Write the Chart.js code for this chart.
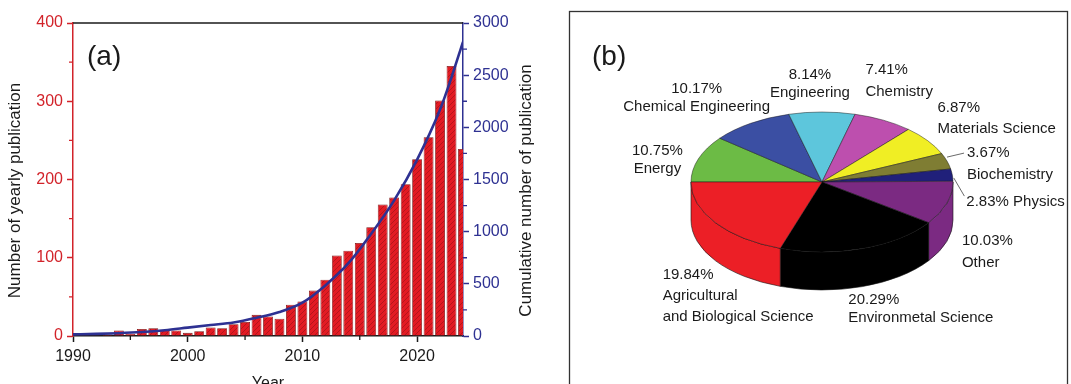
<!DOCTYPE html>
<html>
<head>
<meta charset="utf-8">
<script src="https://cdn.jsdelivr.net/npm/chart.js@4.4.1/dist/chart.umd.min.js"></script>
<style>
  html, body { margin: 0; padding: 0; background: #fff; width: 1071px; height: 384px; overflow: hidden; }
  #growth { position: absolute; left: 0; top: 0; }
  #subjects { position: absolute; left: 560px; top: 0; }
</style>
</head>
<body>
<canvas id="growth" width="560" height="400"></canvas>
<canvas id="subjects" width="511" height="384"></canvas>
<script>
// ---------- (a) publications per year and running total ----------
const years = [1990, 1991, 1992, 1993, 1994, 1995, 1996, 1997, 1998, 1999,
               2000, 2001, 2002, 2003, 2004, 2005, 2006, 2007, 2008, 2009,
               2010, 2011, 2012, 2013, 2014, 2015, 2016, 2017, 2018, 2019,
               2020, 2021, 2022, 2023, 2024];
const yearlyCounts = [1, 1, 1, 2, 7, 3, 9, 10, 8, 7,
                      4, 6, 11, 10, 15, 18, 27, 25, 22, 40,
                      44, 58, 72, 103, 109, 119, 139, 168, 177, 194,
                      226, 254, 301, 345, 239];
const curveYears = [1990, 1992, 1994, 1996, 1998, 2000, 2002, 2004, 2006, 2008,
                    2010, 2012, 2014, 2016, 2018, 2020, 2022, 2023, 2024];
const curveTotals = [16, 20, 27, 38, 55, 80, 105, 130, 175, 230,
                     320, 485, 695, 980, 1300, 1690, 2170, 2480, 2820];

const yearTicks = [1990, 2000, 2010, 2020];
const yearMinorTicks = [1995, 2005, 2015];
const countTicks = [0, 100, 200, 300, 400];
const countMinorTicks = [50, 150, 250, 350];
const totalTicks = [0, 500, 1000, 1500, 2000, 2500, 3000];
const totalMinorTicks = [250, 750, 1250, 1750, 2250, 2750];

// ---------- (b) share of publications by subject area ----------
const subjects = ['Energy', 'Chemical Engineering', 'Engineering', 'Chemistry', 'Materials Science',
                  'Biochemistry', 'Physics', 'Other', 'Environmetal Science', 'Agricultural and Biological Science'];
const shares = [10.75, 10.17, 8.14, 7.41, 6.87, 3.67, 2.83, 10.03, 20.29, 19.84];

const FONT = "'Liberation Sans', Arial, Helvetica, sans-serif";
const RED_AXIS = '#d2232a';
const BLUE_AXIS = '#2e3192';
const INK = '#1a1a1a';

const sliceColors = ['#6cbb45', '#3b4fa3', '#5dc6dc', '#bd4fae', '#f0ee24',
                     '#7f7d33', '#20207a', '#7b2a82', '#000000', '#ec1f26'];

// placement of each slice label relative to the rim point at the slice's mid angle
const labelLayout = [
  { dx: -41, dy: -8,  align: 'center', gap: 18 },
  { dx: -54, dy: -34, align: 'center', gap: 18 },
  { dx: -12, dy: -37, align: 'center', gap: 18 },
  { dx: -18, dy: -50, align: 'left',   gap: 22 },
  { dx: 10,  dy: -33, align: 'left',   gap: 21 },
  { dx: 20,  dy: -8,  align: 'left',   gap: 22, leader: [0, -4, 17, -8] },
  { dx: 14,  dy: 27,  align: 'left',   gap: 0, inline: true, leader: [1.5, 3, 12, 21] },
  { dx: 15,  dy: 38,  align: 'left',   gap: 22 },
  { dx: -14, dy: 51,  align: 'left',   gap: 18 },
  { dx: -53, dy: 52,  align: 'left',   gap: 21, breakBefore: 'and' }
];

// ---------- hatched red fill for the bars ----------
function makeHatch(ctx) {
  const tile = document.createElement('canvas');
  tile.width = tile.height = 5;
  const g = tile.getContext('2d');
  g.fillStyle = '#e31b23';
  g.fillRect(0, 0, 5, 5);
  g.strokeStyle = '#a8141b';
  g.lineWidth = 0.8;
  g.beginPath();
  g.moveTo(-1, 6);
  g.lineTo(6, -1);
  g.stroke();
  return ctx.createPattern(tile, 'repeat');
}

const growthCanvas = document.getElementById('growth');
const hatch = makeHatch(growthCanvas.getContext('2d'));

function verticalText(ctx, text, x, y) {
  ctx.save();
  ctx.translate(x, y);
  ctx.rotate(-Math.PI / 2);
  ctx.textAlign = 'center';
  ctx.textBaseline = 'middle';
  ctx.fillText(text, 0, 0);
  ctx.restore();
}

// frame line along the top, minor ticks, axis titles and panel tag
const growthDecor = {
  id: 'growthDecor',
  afterDraw(chart) {
    const { ctx, chartArea: a, scales } = chart;
    ctx.save();
    ctx.lineWidth = 1.5;
    ctx.strokeStyle = INK;
    ctx.beginPath();
    ctx.moveTo(a.left, a.top);
    ctx.lineTo(a.right, a.top);
    ctx.stroke();

    ctx.lineWidth = 1.3;
    ctx.beginPath();
    yearMinorTicks.forEach(v => {
      const px = scales.x.getPixelForValue(v);
      ctx.moveTo(px, a.bottom);
      ctx.lineTo(px, a.bottom + 4);
    });
    ctx.stroke();

    ctx.strokeStyle = RED_AXIS;
    ctx.beginPath();
    countMinorTicks.forEach(v => {
      const py = scales.y.getPixelForValue(v);
      ctx.moveTo(a.left, py);
      ctx.lineTo(a.left - 4, py);
    });
    ctx.stroke();

    ctx.strokeStyle = BLUE_AXIS;
    ctx.beginPath();
    totalMinorTicks.forEach(v => {
      const py = scales.y2.getPixelForValue(v);
      ctx.moveTo(a.right, py);
      ctx.lineTo(a.right + 4, py);
    });
    ctx.stroke();

    ctx.fillStyle = INK;
    ctx.font = '17px ' + FONT;
    const midY = (a.top + a.bottom) / 2 + 11;
    verticalText(ctx, 'Number of yearly publication', 15, midY);
    verticalText(ctx, 'Cumulative number of publication', a.right + 63, midY);

    ctx.font = '28px ' + FONT;
    ctx.textBaseline = 'middle';
    ctx.textAlign = 'left';
    ctx.fillText('(a)', 87, 57);
    ctx.restore();
  }
};

new Chart(growthCanvas, {
  type: 'bar',
  data: {
    datasets: [
      {
        type: 'line',
        label: 'Cumulative number of publication',
        data: curveYears.map((x, i) => ({ x, y: curveTotals[i] })),
        yAxisID: 'y2',
        borderColor: BLUE_AXIS,
        borderWidth: 2.6,
        pointRadius: 0,
        cubicInterpolationMode: 'monotone',
        order: 0
      },
      {
        type: 'bar',
        label: 'Number of yearly publication',
        data: years.map((x, i) => ({ x, y: yearlyCounts[i] })),
        yAxisID: 'y',
        backgroundColor: hatch,
        borderColor: '#7a1414',
        borderWidth: 0.8,
        barPercentage: 0.86,
        categoryPercentage: 1,
        clip: 0,
        order: 1
      }
    ]
  },
  options: {
    responsive: false,
    animation: false,
    events: [],
    layout: { padding: { top: 23, left: 0, right: 0, bottom: 0 } },
    plugins: { legend: { display: false }, tooltip: { enabled: false } },
    scales: {
      x: {
        type: 'linear',
        position: 'bottom',
        min: 1990,
        max: 2024,
        offset: false,
        afterBuildTicks: s => { s.ticks = yearTicks.map(value => ({ value })); },
        afterFit: s => { s.height = 64; },
        ticks: { color: INK, font: { family: FONT, size: 16 }, padding: 5, callback: v => String(v), maxRotation: 0 },
        grid: { drawOnChartArea: false, offset: false, tickLength: 6, tickWidth: 1.5, tickColor: INK },
        border: { color: INK, width: 1.5 },
        title: { display: true, text: 'Year', color: INK, font: { family: FONT, size: 16 }, padding: { top: 0, bottom: 7 } }
      },
      y: {
        position: 'left',
        min: 0,
        max: 400,
        afterBuildTicks: s => { s.ticks = countTicks.map(value => ({ value })); },
        afterFit: s => { s.width = 73; },
        ticks: { color: RED_AXIS, font: { family: FONT, size: 16 }, padding: 4, callback: v => String(v) },
        grid: { drawOnChartArea: false, tickLength: 6, tickWidth: 1.5, tickColor: RED_AXIS },
        border: { color: RED_AXIS, width: 1.5 }
      },
      y2: {
        position: 'right',
        min: 0,
        max: 3000,
        afterBuildTicks: s => { s.ticks = totalTicks.map(value => ({ value })); },
        afterFit: s => { s.width = 97; },
        ticks: { color: BLUE_AXIS, font: { family: FONT, size: 16 }, padding: 4, callback: v => String(v) },
        grid: { drawOnChartArea: false, tickLength: 6, tickWidth: 1.5, tickColor: BLUE_AXIS },
        border: { color: BLUE_AXIS, width: 1.5 }
      }
    }
  },
  plugins: [growthDecor]
});

// ---------- tilted pie with a side wall ----------
const PIE_CX = 262, PIE_CY = 182, PIE_RY_RATIO = 70 / 131, PIE_DEPTH = 38;

const tiltedPie = {
  id: 'tiltedPie',
  beforeDraw(chart) {
    const ctx = chart.ctx;
    ctx.save();
    ctx.strokeStyle = '#333';
    ctx.lineWidth = 1.3;
    ctx.strokeRect(9.5, 11.5, 498, 420);
    ctx.fillStyle = INK;
    ctx.font = '28px ' + FONT;
    ctx.textBaseline = 'middle';
    ctx.fillText('(b)', 32, 57);
    ctx.restore();
  },
  beforeDatasetsDraw(chart) {
    const ctx = chart.ctx;
    const arcs = chart.getDatasetMeta(0).data;
    const r = arcs[0].outerRadius;
    const ry = r * PIE_RY_RATIO;
    // side wall: only the front half of the rim is visible
    ctx.save();
    ctx.lineWidth = 0.8;
    ctx.strokeStyle = 'rgba(20,20,20,0.75)';
    arcs.forEach((arc, i) => {
      for (let k = -1; k <= 2; k++) {
        const lo = 2 * Math.PI * k, hi = lo + Math.PI;
        const a = Math.max(arc.startAngle, lo), b = Math.min(arc.endAngle, hi);
        if (b <= a) continue;
        ctx.beginPath();
        ctx.ellipse(PIE_CX, PIE_CY, r, ry, 0, a, b, false);
        ctx.lineTo(PIE_CX + r * Math.cos(b), PIE_CY + ry * Math.sin(b) + PIE_DEPTH);
        ctx.ellipse(PIE_CX, PIE_CY + PIE_DEPTH, r, ry, 0, b, a, true);
        ctx.closePath();
        ctx.fillStyle = sliceColors[i];
        ctx.fill();
        ctx.stroke();
      }
    });
    ctx.restore();
    // top face: squash the chart's circle into the tilted ellipse
    ctx.save();
    ctx.translate(PIE_CX, PIE_CY);
    ctx.scale(1, PIE_RY_RATIO);
    ctx.translate(-arcs[0].x, -arcs[0].y);
  },
  afterDatasetsDraw(chart) {
    const ctx = chart.ctx;
    ctx.restore();
    const arcs = chart.getDatasetMeta(0).data;
    const r = arcs[0].outerRadius;
    const ry = r * PIE_RY_RATIO;
    ctx.save();
    ctx.font = '15px ' + FONT;
    ctx.fillStyle = INK;
    ctx.textBaseline = 'middle';
    arcs.forEach((arc, i) => {
      const mid = (arc.startAngle + arc.endAngle) / 2;
      const rx0 = PIE_CX + r * Math.cos(mid);
      const ry0 = PIE_CY + ry * Math.sin(mid);
      const L = labelLayout[i];
      const pct = shares[i].toFixed(2) + '%';
      let lines;
      if (L.inline) {
        lines = [pct + ' ' + subjects[i]];
      } else if (L.breakBefore) {
        const cut = subjects[i].indexOf(' ' + L.breakBefore + ' ');
        lines = [pct, subjects[i].slice(0, cut), subjects[i].slice(cut + 1)];
      } else {
        lines = [pct, subjects[i]];
      }
      ctx.textAlign = L.align;
      lines.forEach((t, j) => ctx.fillText(t, rx0 + L.dx, ry0 + L.dy + j * L.gap));
      if (L.leader) {
        ctx.strokeStyle = '#444';
        ctx.lineWidth = 0.8;
        ctx.beginPath();
        ctx.moveTo(rx0 + L.leader[0], ry0 + L.leader[1]);
        ctx.lineTo(rx0 + L.leader[2], ry0 + L.leader[3]);
        ctx.stroke();
      }
    });
    ctx.restore();
  }
};

new Chart(document.getElementById('subjects'), {
  type: 'pie',
  data: {
    labels: subjects,
    datasets: [{
      data: shares,
      backgroundColor: sliceColors,
      borderColor: 'rgba(20,20,20,0.75)',
      borderWidth: 0.8,
      hoverOffset: 0,
      clip: false
    }]
  },
  options: {
    responsive: false,
    animation: false,
    events: [],
    radius: 131,
    rotation: 270,
    plugins: { legend: { display: false }, tooltip: { enabled: false } }
  },
  plugins: [tiltedPie]
});
</script>
</body>
</html>
